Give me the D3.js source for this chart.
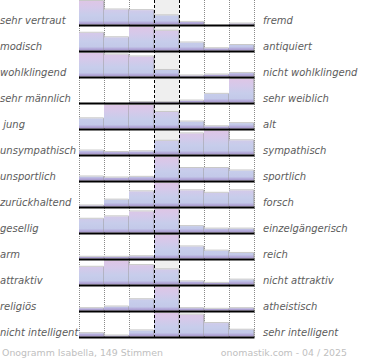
<!DOCTYPE html>
<html><head><meta charset="utf-8">
<script src="https://cdn.jsdelivr.net/npm/d3@7"></script>
<style>html,body{margin:0;padding:0;background:#fff;}svg{display:block;}</style>
</head><body>
<script>
const leftLabels = ["sehr vertraut","modisch","wohlklingend","sehr männlich"," jung","unsympathisch","unsportlich","zurückhaltend","gesellig","arm","attraktiv","religiös","nicht intelligent"];
const rightLabels = ["fremd","antiquiert","nicht wohlklingend","sehr weiblich","alt","sympathisch","sportlich","forsch","einzelgängerisch","reich","nicht attraktiv","atheistisch","sehr intelligent"];
const scalePoints = [1,2,3,4,5,6,7];
// vote shares (%) per rating 1..7
const row01 = [36,23,22,14,4,0,1.5];
const row02 = [19.7,14.7,26.1,22.0,8.9,2.5,6.1];
const row03 = [29.9,28.0,25.5,8.3,1.3,2.5,4.5];
const row04 = [0,0,1.4,1.4,5.5,24.7,67.1];
const row05 = [11.5,26.6,26.6,18.7,7.9,2.5,6.1];
const row06 = [4.8,3.0,3.9,16.7,25.7,28.6,17.3];
const row07 = [5.8,4.3,5.3,34.0,18.1,18.1,14.5];
const row08 = [1.1,7.4,16.4,25.4,17.5,14.8,17.5];
const row09 = [15.5,18.2,23.8,26.5,7.2,4.4,4.4];
const row10 = [3.1,3.1,4.1,43.1,22.1,14.4,10.2];
const row11 = [20.7,27.5,22.7,17.8,3.7,1.9,5.7];
const row12 = [4.9,8.4,23.8,49.6,4.9,3.6,4.9];
const row13 = [4.4,1.3,8.0,30.9,28.8,17.7,8.9];
const rows = [row01,row02,row03,row04,row05,row06,row07,row08,row09,row10,row11,row12,row13];
const footerLeft = "Onogramm Isabella, 149 Stimmen";
const footerRight = "onomastik.com - 04 / 2025";

const W = 370, H = 360;
const svg = d3.select("body").append("svg").attr("width", W).attr("height", H);

const defs = svg.append("defs");
const grad = defs.append("linearGradient").attr("id","barGrad")
  .attr("gradientUnits","userSpaceOnUse").attr("x1",0).attr("x2",0).attr("y1",1).attr("y2",24.5);
[[0,"#dec6e6"],[0.3,"#d4c9ea"],[0.6,"#c7cdeb"],[0.84,"#c3c9e9"],[0.92,"#b4abda"],[1,"#a393c9"]]
  .forEach(([o,c]) => grad.append("stop").attr("offset",o).attr("stop-color",c));

const x = d3.scaleBand().domain(scalePoints).range([79.5, 254.5]).padding(0);
const rowBand = d3.scaleBand().domain(d3.range(rows.length)).range([0, 338]).padding(0);

const plotTop = 0, plotBottom = 338;

// centre highlight
svg.append("rect").attr("x", x(4)).attr("y", plotTop).attr("width", x.bandwidth())
  .attr("height", plotBottom - plotTop).attr("fill", "#efefef");

// dotted grid lines
const dotted = [x(1), x(2), x(3), x(6), x(7), x(7) + x.bandwidth()];
svg.selectAll("line.dot").data(dotted).enter().append("line")
  .attr("x1", d => d).attr("x2", d => d).attr("y1", plotTop).attr("y2", plotBottom)
  .attr("stroke", "#8a8a8a").attr("stroke-width", 1).attr("stroke-dasharray", "1,1");

// rows
rows.forEach((vals, i) => {
  const top = rowBand(i);
  const g = svg.append("g").attr("transform", `translate(0,${top})`);
  const y = d3.scaleLinear().domain([0, d3.max(vals)]).range([24.5, 1]);
  const items = vals.map((v, j) => ({ v, k: scalePoints[j] })).filter(d => d.v > 0);
  const bars = g.selectAll("g.bar").data(items).enter().append("g");
  bars.append("rect")
    .attr("x", d => x(d.k) - 0.5)
    .attr("y", d => y(d.v))
    .attr("width", x.bandwidth())
    .attr("height", d => 24.5 - y(d.v))
    .attr("fill", "url(#barGrad)");
  bars.append("line")
    .attr("x1", d => x(d.k) - 0.5).attr("x2", d => x(d.k) + x.bandwidth() - 1)
    .attr("y1", d => y(d.v) - 0.5).attr("y2", d => y(d.v) - 0.5)
    .attr("stroke", "#c8c8c8").attr("stroke-width", 1);
  bars.append("line")
    .attr("x1", d => x(d.k) + x.bandwidth() - 0.5).attr("x2", d => x(d.k) + x.bandwidth() - 0.5)
    .attr("y1", d => y(d.v) - 0.5).attr("y2", 24.5)
    .attr("stroke", "#9a9a9a").attr("stroke-width", 1);
});

// dashed centre lines
svg.selectAll("line.dash").data([x(4), x(5)]).enter().append("line")
  .attr("x1", d => d).attr("x2", d => d).attr("y1", plotTop).attr("y2", plotBottom)
  .attr("stroke", "#000").attr("stroke-width", 1).attr("stroke-dasharray", "3,2");

// baselines
rows.forEach((vals, i) => {
  const by = rowBand(i) + 25.5;
  svg.append("line").attr("x1", x(1) - 0.5).attr("x2", x(7) + x.bandwidth())
    .attr("y1", by).attr("y2", by).attr("stroke", "#000").attr("stroke-width", 2);
});

// labels
const font = "DejaVu Sans, sans-serif";
svg.selectAll("text.left").data(leftLabels).enter().append("text")
  .attr("x", 0).attr("y", (d, i) => rowBand(i) + 23.5)
  .attr("xml:space", "preserve").style("white-space", "pre")
  .attr("font-family", font).attr("font-style", "italic").attr("font-size", "10px")
  .attr("fill", "#5c5c5c").text(d => d);
svg.selectAll("text.right").data(rightLabels).enter().append("text")
  .attr("x", 263).attr("y", (d, i) => rowBand(i) + 23.5)
  .attr("font-family", font).attr("font-style", "italic").attr("font-size", "10px")
  .attr("fill", "#5c5c5c").text(d => d);

svg.append("text").attr("x", 2).attr("y", 356).attr("font-family", font).attr("font-size", "9.4px")
  .attr("fill", "#c0c0c0").text(footerLeft);
svg.append("text").attr("x", 347).attr("y", 356).attr("text-anchor", "end").attr("font-family", font).attr("font-size", "9.4px")
  .attr("fill", "#c0c0c0").text(footerRight);
</script>
</body></html>
